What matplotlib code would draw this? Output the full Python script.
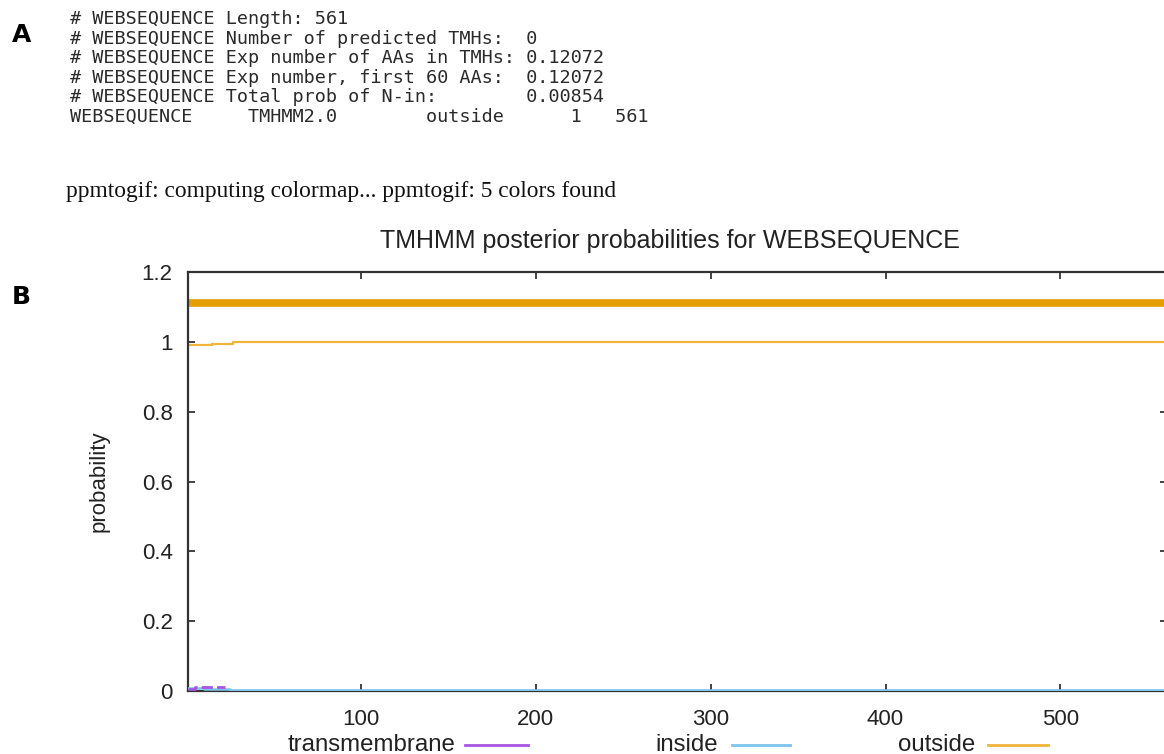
import matplotlib
matplotlib.use("Agg")
import matplotlib.pyplot as plt
from matplotlib.lines import Line2D

# ---- data ----
header_lines = [
    "# WEBSEQUENCE Length: 561",
    "# WEBSEQUENCE Number of predicted TMHs:  0",
    "# WEBSEQUENCE Exp number of AAs in TMHs: 0.12072",
    "# WEBSEQUENCE Exp number, first 60 AAs:  0.12072",
    "# WEBSEQUENCE Total prob of N-in:        0.00854",
    "WEBSEQUENCE     TMHMM2.0        outside      1   561",
]
ppm_line = "ppmtogif: computing colormap... ppmtogif: 5 colors found"
title = "TMHMM posterior probabilities for WEBSEQUENCE"

seq_len = 561
outside_pos = [1, 15, 27, 561]
outside_val = [0.99, 0.995, 1.0, 1.0]
inside_pos = [1, 10, 25, 561]
inside_val = [0.008, 0.006, 0.004, 0.004]
tm_pos = [1, 5, 22]
tm_val = [0.006, 0.012, 0.012]
topology_pos = [1, 561]
topology_val = [1.11, 1.11]

yticks = [0, 0.2, 0.4, 0.6, 0.8, 1, 1.2]
yticklabels = ["0", "0.2", "0.4", "0.6", "0.8", "1", "1.2"]
xticks = [100, 200, 300, 400, 500]
legend_labels = ["transmembrane", "inside", "outside"]

c_tm = "#a855e0"
c_in = "#7cc4ec"
c_out = "#e69f00"
c_out_thin = "#efb43a"

W, H = 1164, 754
fig = plt.figure(figsize=(W / 100, H / 100), dpi=100)

def fx(px):
    return px / W

def fy(py):
    return 1 - py / H

# Panel letters
fig.text(fx(12), fy(35), "A", fontsize=18, fontweight="bold", va="center", ha="left", family="DejaVu Sans")
fig.text(fx(12), fy(297), "B", fontsize=18, fontweight="bold", va="center", ha="left", family="DejaVu Sans")

# header text
for i, line in enumerate(header_lines):
    fig.text(fx(70), fy(19 + i * 19.6), line, family="DejaVu Sans Mono", fontsize=13.3,
             va="center", ha="left", color="#2a2a2a")
fig.text(fx(66), fy(191), ppm_line, family="Liberation Serif", fontsize=16.8,
         va="center", ha="left", color="#111111")

# axes
left, right, top, bottom = 188, 1167, 272, 691
ax = fig.add_axes([fx(left), fy(bottom), (right - left) / W, (bottom - top) / H])
ax.set_xlim(1, seq_len)
ax.set_ylim(0, 1.2)

ax.step(outside_pos, outside_val, where="post", color=c_out_thin, lw=1.6)
ax.plot(topology_pos, topology_val, color=c_out, lw=5.5, solid_capstyle="butt")
ax.step(inside_pos, inside_val, where="post", color=c_in, lw=1.8, zorder=3)
ax.step(tm_pos, tm_val, where="post", color=c_tm, lw=2.0, zorder=3.5,
        linestyle=(0, (4, 1.5)))

ax.set_yticks(yticks)
ax.set_yticklabels(yticklabels)
ax.set_xticks(xticks)
ax.tick_params(direction="in", length=5, width=1.2, top=True, right=True,
               labelsize=16, colors="#222222")
ax.tick_params(axis="y", pad=11)
ax.tick_params(axis="x", pad=13)
for lab in ax.get_xticklabels() + ax.get_yticklabels():
    lab.set_family("Liberation Sans")
for sp in ax.spines.values():
    sp.set_linewidth(1.6)
    sp.set_color("#333333")
ax.set_ylabel("probability", family="Liberation Sans", fontsize=16, color="#222222")
ax.yaxis.set_label_coords((110 - left) / (right - left), 0.5)

fig.text(fx(670), fy(241), title, family="Liberation Sans", fontsize=18,
         ha="center", va="center", color="#222222")

# legend below
legend_specs = [
    (455, 465, 528, c_tm),
    (718, 732, 790, c_in),
    (975, 988, 1048, c_out_thin),
]
for lab, (tx, l0, l1, col) in zip(legend_labels, legend_specs):
    fig.text(fx(tx), fy(745), lab, family="Liberation Sans", fontsize=17.3,
             ha="right", va="center", color="#222222")
    fig.add_artist(Line2D([fx(l0), fx(l1)], [fy(745), fy(745)], color=col, lw=2))

fig.savefig("out.png", dpi=100)
